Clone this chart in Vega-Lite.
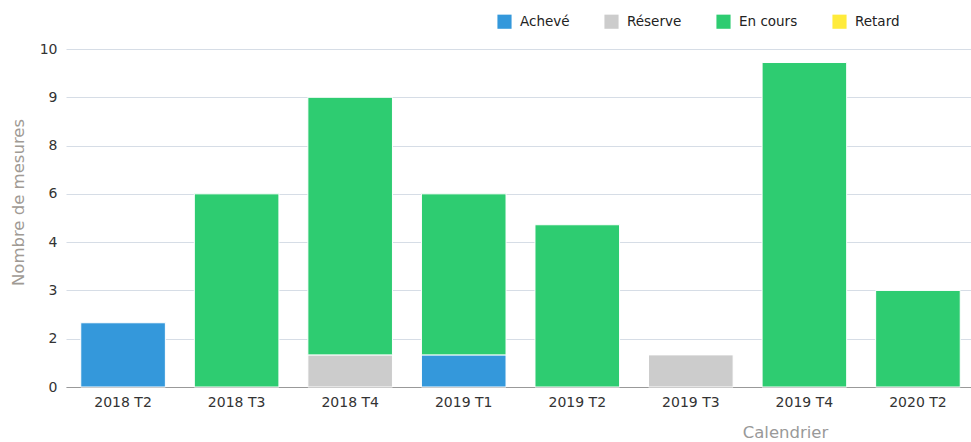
{
  "$schema": "https://vega.github.io/schema/vega-lite/v6.json",
  "width": 909,
  "height": 338,
  "autosize": {"type": "none"},
  "padding": {"left": 66, "top": 49, "right": 0, "bottom": 55},
  "background": "white",
  "data": {
    "values": [
      {"periode": "2018 T2", "statut": "Achevé", "valeur": 2.33},
      {"periode": "2018 T3", "statut": "En cours", "valeur": 6},
      {"periode": "2018 T4", "statut": "Réserve", "valeur": 1.33},
      {"periode": "2018 T4", "statut": "En cours", "valeur": 7.67},
      {"periode": "2019 T1", "statut": "Achevé", "valeur": 1.33},
      {"periode": "2019 T1", "statut": "En cours", "valeur": 4.67},
      {"periode": "2019 T2", "statut": "En cours", "valeur": 4.72},
      {"periode": "2019 T3", "statut": "Réserve", "valeur": 1.33},
      {"periode": "2019 T4", "statut": "En cours", "valeur": 9.72},
      {"periode": "2020 T2", "statut": "En cours", "valeur": 3}
    ]
  },
  "transform": [
    {"calculate": "indexof(['Achevé','Réserve','En cours','Retard'], datum.statut)", "as": "ord"}
  ],
  "mark": {"type": "bar", "stroke": "white", "strokeWidth": 1},
  "encoding": {
    "x": {
      "field": "periode",
      "type": "nominal",
      "sort": null,
      "scale": {"paddingInner": 0.255, "paddingOuter": 0.13},
      "axis": {
        "title": "Calendrier",
        "labelAngle": 0,
        "ticks": false,
        "domainColor": "#999999",
        "labelColor": "#333333",
        "labelFont": "DejaVu Sans",
        "labelFontSize": 14,
        "labelPadding": 8,
        "titleFont": "DejaVu Sans",
        "titleFontSize": 16.5,
        "titleFontWeight": "normal",
        "titleColor": "#999999",
        "titleX": 719,
        "titleY": 45,
        "titleAlign": "center",
        "titleBaseline": "middle"
      }
    },
    "y": {
      "field": "valeur",
      "type": "quantitative",
      "stack": "zero",
      "scale": {
        "type": "linear",
        "domain": [0, 2, 3, 4, 6, 8, 9, 10],
        "range": [338, 289.714, 241.429, 193.143, 144.857, 96.571, 48.286, 0],
        "nice": false,
        "zero": false
      },
      "axis": {
        "title": "Nombre de mesures",
        "values": [0, 2, 3, 4, 6, 8, 9, 10],
        "ticks": false,
        "domain": false,
        "gridColor": "#d6dde6",
        "labelColor": "#333333",
        "labelFont": "DejaVu Sans",
        "labelFontSize": 14,
        "labelPadding": 9,
        "titleFont": "DejaVu Sans",
        "titleFontSize": 16.5,
        "titleFontWeight": "normal",
        "titleColor": "#a09a94",
        "titleX": -48,
        "titleY": 153,
        "titleAlign": "center",
        "titleBaseline": "middle",
        "titleAngle": -90
      }
    },
    "color": {
      "field": "statut",
      "type": "nominal",
      "scale": {
        "domain": ["Achevé", "Réserve", "En cours", "Retard"],
        "range": ["#3498db", "#cccccc", "#2ecc71", "#ffeb3b"]
      },
      "legend": {
        "title": null,
        "orient": "none",
        "legendX": 431,
        "legendY": -35,
        "direction": "horizontal",
        "symbolType": "square",
        "symbolSize": 200,
        "symbolStrokeWidth": 0,
        "symbolOpacity": 1,
        "labelFont": "DejaVu Sans",
        "labelFontSize": 13.5,
        "labelFontWeight": "normal",
        "labelColor": "#222222",
        "labelOffset": 8,
        "columnPadding": 34
      }
    },
    "order": {"field": "ord", "type": "quantitative"}
  },
  "config": {"view": {"stroke": null}}
}
